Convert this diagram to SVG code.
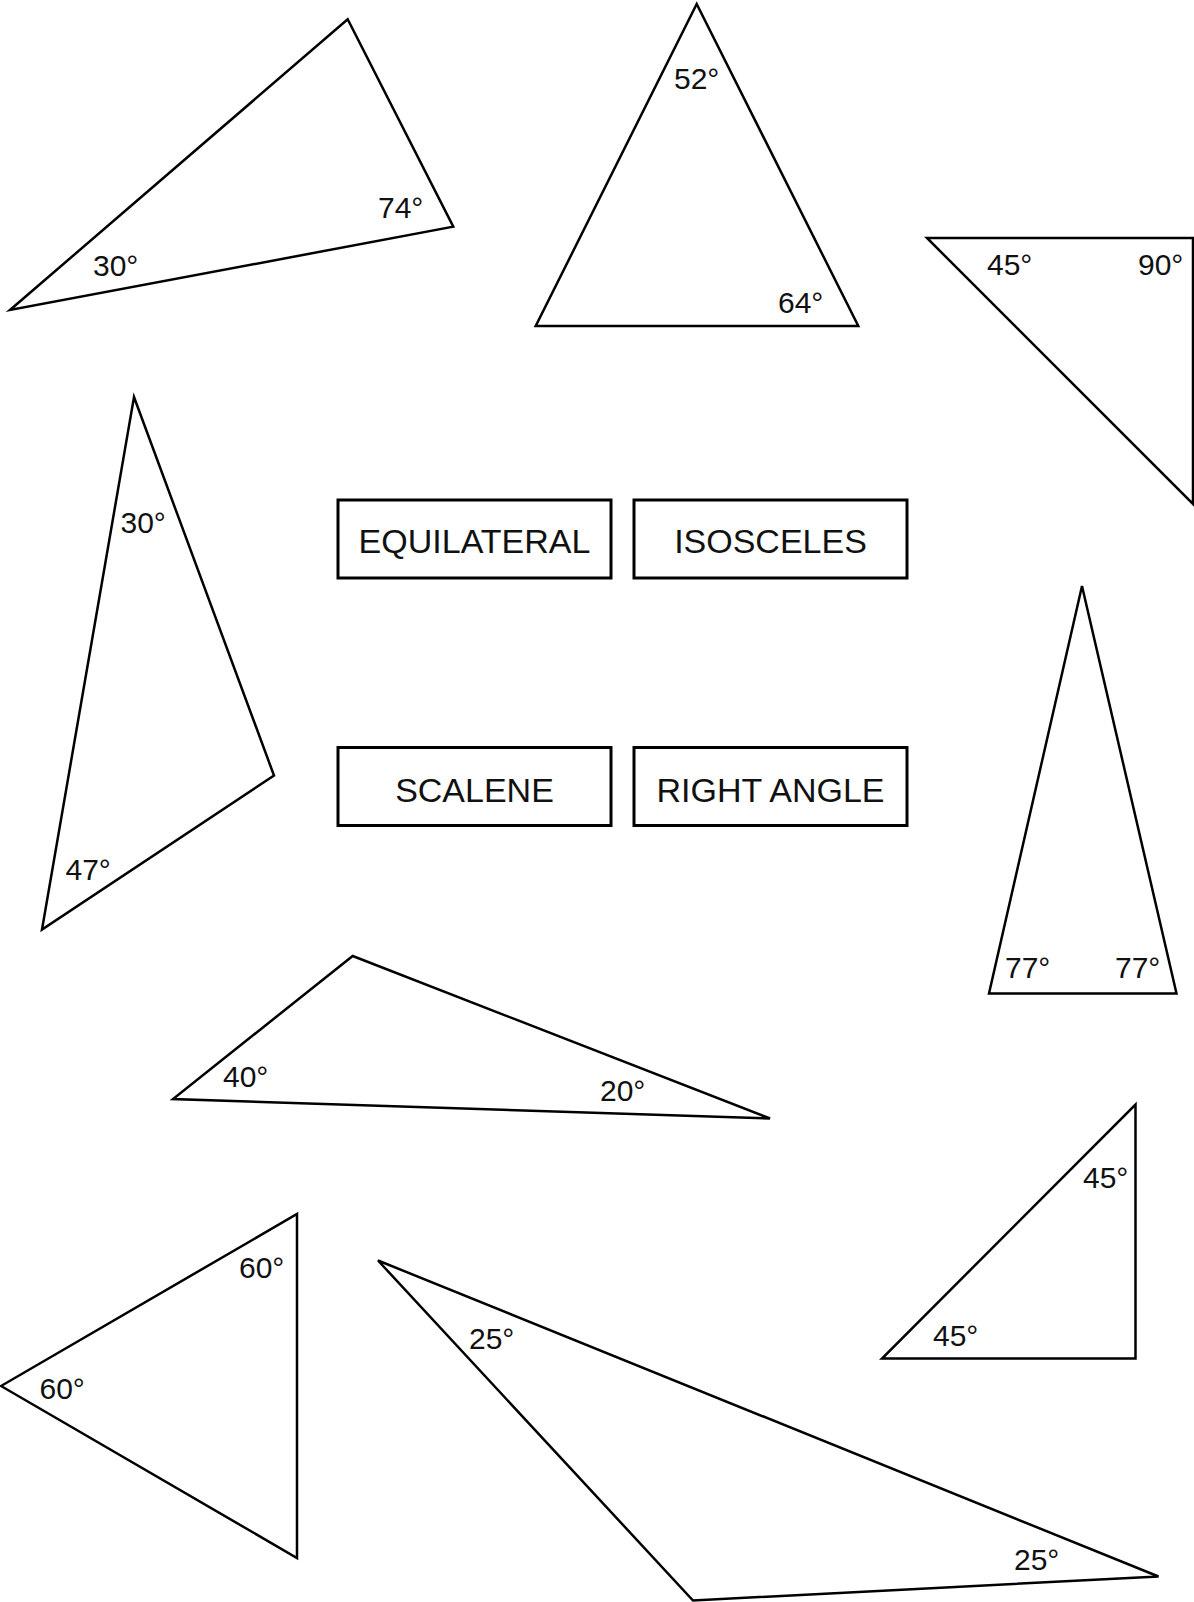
<svg xmlns="http://www.w3.org/2000/svg" width="1194" height="1602" viewBox="0 0 1194 1602">
<style>
.tri{fill:none;stroke:#000;stroke-width:2.5;stroke-linejoin:miter}
.box{fill:#fff;stroke:#000;stroke-width:3}
.ang{font-family:"Liberation Sans",Arial,sans-serif;font-size:30px;fill:#111}
.lbl{font-family:"Liberation Sans",Arial,sans-serif;font-size:34px;fill:#111;text-anchor:middle}
</style>
<rect width="1194" height="1602" fill="#fff"/>
<g id="tri-30-74">
<polygon class="tri" points="347.7,19.3 453.3,226.7 10,310"/>
<text class="ang" x="378" y="218">74°</text>
<text class="ang" x="93" y="276">30°</text>
</g>
<g id="tri-52-64">
<polygon class="tri" points="696.7,4 858.3,326 535.7,326"/>
<text class="ang" x="674" y="89">52°</text>
<text class="ang" x="778" y="313">64°</text>
</g>
<g id="tri-45-90">
<polygon class="tri" points="927,238 1193,238 1193,504"/>
<text class="ang" x="987" y="275">45°</text>
<text class="ang" x="1138" y="275">90°</text>
</g>
<g id="tri-30-47">
<polygon class="tri" points="134,397 274,775.5 42,929.5"/>
<text class="ang" x="120.5" y="533">30°</text>
<text class="ang" x="65.5" y="880">47°</text>
</g>
<g id="box-equilateral">
<rect class="box" x="338" y="500" width="273" height="78"/>
<text class="lbl" x="474.5" y="553">EQUILATERAL</text>
</g>
<g id="box-isosceles">
<rect class="box" x="634" y="500" width="273" height="78"/>
<text class="lbl" x="770.5" y="553">ISOSCELES</text>
</g>
<g id="box-scalene">
<rect class="box" x="338" y="747.5" width="273" height="78"/>
<text class="lbl" x="474.5" y="801.5">SCALENE</text>
</g>
<g id="box-right-angle">
<rect class="box" x="634" y="747.5" width="273" height="78"/>
<text class="lbl" x="770.5" y="801.5">RIGHT ANGLE</text>
</g>
<g id="tri-77-77">
<polygon class="tri" points="1082,586 1176.5,993.5 989,993.5"/>
<text class="ang" x="1005" y="978">77°</text>
<text class="ang" x="1115" y="978">77°</text>
</g>
<g id="tri-40-20">
<polygon class="tri" points="352.7,956 770,1118.5 173,1099"/>
<text class="ang" x="223" y="1087">40°</text>
<text class="ang" x="600" y="1101">20°</text>
</g>
<g id="tri-45-45">
<polygon class="tri" points="1135.5,1104.5 1135.5,1358.5 882,1358.5"/>
<text class="ang" x="1083" y="1188">45°</text>
<text class="ang" x="933" y="1346">45°</text>
</g>
<g id="tri-60-60">
<polygon class="tri" points="297,1214 297,1558 1,1386"/>
<text class="ang" x="239" y="1277.5">60°</text>
<text class="ang" x="39.5" y="1398.5">60°</text>
</g>
<g id="tri-25-25">
<polygon class="tri" points="378,1260.5 1158.5,1576.5 693,1600.5"/>
<text class="ang" x="469" y="1348.5">25°</text>
<text class="ang" x="1014" y="1570">25°</text>
</g>
</svg>
